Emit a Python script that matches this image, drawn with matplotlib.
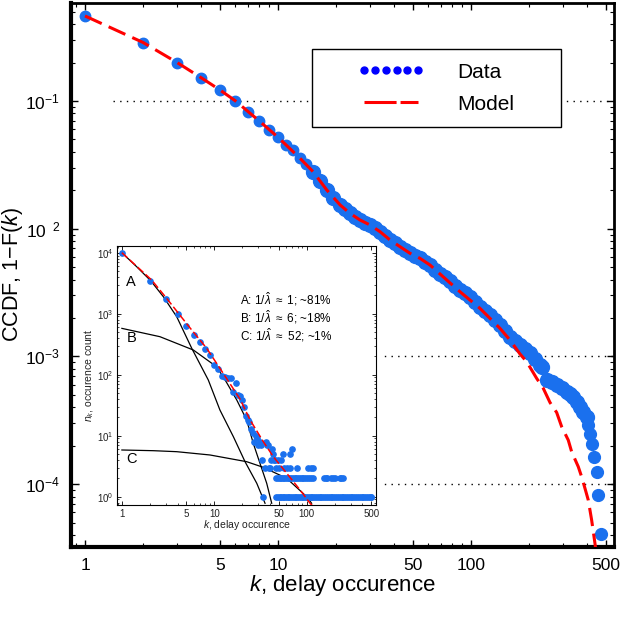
import matplotlib
matplotlib.use('Agg')
import matplotlib.pyplot as plt
from matplotlib.lines import Line2D
from matplotlib.patches import Rectangle
from matplotlib.ticker import FixedLocator, LogLocator, NullFormatter

plt.rcParams['font.family'] = ['Liberation Sans', 'DejaVu Sans']
plt.rcParams['mathtext.fontset'] = 'custom'
plt.rcParams['mathtext.rm'] = 'Liberation Sans'
plt.rcParams['mathtext.it'] = 'Liberation Sans:italic'

# ---- main panel: CCDF data ----
head_k = [1, 2, 3, 4, 5, 6, 7, 8, 9, 10, 11, 12, 13, 14]
head_ccdf = [0.464, 0.287, 0.200, 0.152, 0.122, 0.100, 0.0815, 0.0697, 0.0593,
             0.052, 0.0452, 0.0413, 0.0356, 0.0321]
band_k = [15.2, 16.5, 17.9, 19.3, 21.0, 22.2, 23.6, 25.1, 26.6, 28.2, 30.0,
          31.8, 33.8, 35.8, 38.1, 40.4, 42.9, 45.5, 48.3, 51.3, 54.4, 57.8,
          61.3, 65.1, 69.1, 73.3, 77.8, 82.6, 87.7, 93.1, 98.8, 104.9, 111.3,
          118.2, 125.4, 133.2, 141.3, 150, 159.2, 169, 179.5, 190.5, 202.2,
          214.6, 227.8, 232.4,
          246.7, 261.8, 278, 295, 313, 326, 339, 353, 367, 382, 398]
band_ccdf = [0.02795, 0.0237, 0.02009, 0.01755, 0.01533, 0.01421, 0.0132,
             0.01242, 0.0117, 0.01118, 0.01069, 0.01005, 0.00947, 0.00878,
             0.00815, 0.00767, 0.00723, 0.00681, 0.00642, 0.00613, 0.00586,
             0.00551, 0.0052, 0.00479, 0.00442, 0.00415, 0.0039, 0.00359,
             0.00331, 0.00311, 0.00293, 0.00268, 0.00245, 0.00227, 0.00211,
             0.00193, 0.00176, 0.001584, 0.001426, 0.001322, 0.001229,
             0.001138, 0.001058, 0.000951, 0.000856, 0.000821,
             0.000653, 0.000625, 0.000597, 0.000563, 0.000529, 0.000506,
             0.000484, 0.000442, 0.000404, 0.000369, 0.000337]
tail_k = [405, 414, 422, 435, 448, 457, 470]
tail_ccdf = [0.00029, 0.000247, 0.000206, 0.000164, 0.000124, 8.2e-5, 4.1e-5]

model_k = [1, 2, 3, 4, 5, 6, 8, 10, 13, 15.2, 17.9, 21.0, 23.6, 26.6, 30.0,
           33.8, 38.1, 42.9, 48.3, 54.4, 61.3, 69.1, 87.7, 111.3, 141.3, 159.2,
           179.5, 194.4, 218.9, 236.9, 256.7, 278, 295, 319.3, 332.5, 359.7,
           374.6, 389.7, 405.3, 422, 439, 449.7]
model_ccdf = [0.463, 0.287, 0.200, 0.152, 0.122, 0.1005, 0.0697, 0.052, 0.0356,
              0.02795, 0.02009, 0.01533, 0.0132, 0.0117, 0.01069, 0.00947,
              0.00815, 0.00723, 0.00642, 0.00586, 0.0052, 0.00442, 0.00321,
              0.00238, 0.00166, 0.001344, 0.001044, 0.000909, 0.000674,
              0.000563, 0.000436, 0.000364, 0.000282, 0.000221, 0.000179,
              0.000137, 0.000114, 9.27e-5, 7.51e-5, 5.23e-5, 3.44e-5, 2.55e-5]

x_ticks = [1, 5, 10, 50, 100, 500]
x_ticklabels = ['1', '5', '10', '50', '100', '500']
y_ticks = [1e-1, 1e-2, 1e-3, 1e-4]
y_ticklabels = [r'$\mathregular{10^{-1}}$', r'$\mathregular{10^{\ \ 2}}$',
                r'$\mathregular{10^{-3}}$', r'$\mathregular{10^{-4}}$']
grid_levels = [1e-1, 1e-3, 1e-4]

# ---- inset: occurrence counts ----
ins_k_head = list(range(1, 47))
ins_n_head = [10000, 3475, 1722, 977, 635, 448, 340, 264, 210, 144, 124, 96, 93,
              87, 88, 53, 72, 46, 44, 38, 30, 21, 18, 17, 13, 11, 8, 10, 9, 7,
              8, 7, 4, 1, 3, 8, 7, 7, 3, 3, 4, 6, 5, 4, 4, 3]
ins_k_ones = [47, 49, 51, 53, 55, 57, 60, 62, 65, 68, 71, 74, 77, 80, 84, 88,
              92, 96, 100, 105, 110, 115, 120, 126, 132, 138, 144, 151, 158,
              165, 173, 181, 189, 198, 207, 217, 227, 238, 249, 260, 272, 285,
              298, 312, 327, 342, 358, 375, 392, 410, 429, 449, 470, 492, 500]
ins_k_twos = [47, 49, 51, 53, 55, 57, 60, 62, 65, 68, 71, 74, 77, 80, 84, 88,
              92, 96, 100, 105, 110, 116, 155, 160, 166, 185, 192, 200, 228,
              236, 245]
ins_k_threes = [50, 57, 61, 66, 78, 104, 110, 116]
ins_k_misc = [49, 53, 55, 66, 70]
ins_n_misc = [4, 4, 5, 5, 6]

comp_a_k = [1, 1.446, 2.05, 2.81, 3.92, 5.7, 8.61, 11.5, 16.1, 21.5, 28.8, 35.4]
comp_a_n = [10000, 5890, 3475, 1900, 893, 271, 81.9, 26.4, 9.6, 3.75, 1.66, 0.78]
comp_b_k = [1, 2.58, 5.93, 10.6, 13.1, 17.5, 22.4, 26.4, 31.2, 36.9, 41.8]
comp_b_n = [575, 420, 254, 135, 81.9, 38.5, 18.1, 7.5, 3.53, 1.66, 0.78]
comp_c_k = [1, 2.19, 3.92, 8.98, 22.4, 33.9, 60.8, 100, 113]
comp_c_n = [5.83, 5.68, 5.47, 4.83, 3.75, 3.03, 2.0, 1.0, 0.78]
ins_model_k = [1, 2.1, 3.05, 5.15, 8.27, 12.5, 19.0, 24.4, 34, 43.5, 60.8, 84.7,
               108.7, 118]
ins_model_n = [10000, 3565, 1786, 653, 271, 105, 39.8, 18.1, 7.94, 4.53, 2.42,
               1.29, 0.78, 0.686]

ins_x_ticks = [1, 5, 10, 50, 100, 500]
ins_y_ticks = [1, 10, 100, 1000, 10000]
ins_y_ticklabels = [r'$\mathregular{10^{0}}$', r'$\mathregular{10^{1}}$',
                    r'$\mathregular{10^{2}}$', r'$\mathregular{10^{3}}$',
                    r'$\mathregular{10^{4}}$']

BLUE = '#1a70ee'
W, H = 622, 630

fig = plt.figure(figsize=(W / 100, H / 100), dpi=100)
ax = fig.add_axes([71 / W, 1 - 547 / H, 543 / W, 544 / H])
ax.set_xscale('log')
ax.set_yscale('log')

for lvl in grid_levels:
    xmin = 0.077 if lvl == 1e-1 else 0.0
    ax.axhline(lvl, xmin=xmin, color='k', lw=1, ls=(0, (1, 3.8)), zorder=1)

ax.plot(head_k, head_ccdf, 'o', color=BLUE, ms=7.5, zorder=3)
ax.plot(band_k, band_ccdf, 'o', color=BLUE, ms=10, zorder=3)
ax.plot(tail_k, tail_ccdf, 'o', color=BLUE, ms=8.5, zorder=3)
ax.plot(model_k, model_ccdf, color='#ff0000', lw=2.2, dashes=(6, 2.5), zorder=4)

ax.set_xlim(0.846, 551)
ax.set_ylim(3.22e-5, 0.585)

ax.xaxis.set_major_locator(FixedLocator(x_ticks))
ax.set_xticklabels(x_ticklabels)
ax.xaxis.set_minor_locator(LogLocator(base=10, subs=range(2, 10)))
ax.xaxis.set_minor_formatter(NullFormatter())
ax.yaxis.set_major_locator(FixedLocator(y_ticks))
ax.set_yticklabels(y_ticklabels)
ax.yaxis.set_minor_locator(LogLocator(base=10, subs=range(2, 10)))
ax.yaxis.set_minor_formatter(NullFormatter())
ax.tick_params(which='major', direction='in', length=5, width=1,
               top=True, right=True, labelsize=12.5, pad=8)
ax.tick_params(which='minor', direction='in', length=3, width=0.8,
               top=True, right=True)
for side in ['left', 'bottom']:
    ax.spines[side].set_linewidth(3)
for side in ['top', 'right']:
    ax.spines[side].set_linewidth(2)

ax.set_xlabel(r'$k$, delay occurence', fontsize=16)
ax.xaxis.set_label_coords(0.5, -0.07)
ax.xaxis.label.set_va('center')
ax.set_ylabel(r'CCDF, 1$-$F($k$)', fontsize=15.5)
ax.yaxis.set_label_coords(-0.108, 0.5)
ax.yaxis.label.set_va('center')

# legend with its own frame
ax.add_patch(Rectangle((0.4433, 0.772), 0.4591, 0.1428, transform=ax.transAxes,
                       facecolor='white', edgecolor='black', lw=1, zorder=5))
handles = [Line2D([], [], ls='none', marker='o', ms=5, color='#0000ff'),
           Line2D([], [], color='#ff0000', lw=2.2, dashes=(10.5, 1.3))]
leg = ax.legend(handles, ['Data', 'Model'], loc='center',
                bbox_to_anchor=(0.6728, 0.8434), frameon=False, fontsize=15,
                numpoints=6, handlelength=3.17, handletextpad=1.6,
                labelspacing=0.62)
leg.set_zorder(6)

# white backing of the inset
fig.add_artist(Rectangle((80 / W, 1 - 537 / H), 304 / W, 293 / H,
                         transform=fig.transFigure, facecolor='white',
                         edgecolor='none', zorder=2))

# ---- inset ----
ins = fig.add_axes([117.3 / W, 1 - 505 / H, 258.7 / W, 259.3 / H], zorder=3)
ins.set_xscale('log')
ins.set_yscale('log')
for ck, cn in [(comp_a_k, comp_a_n), (comp_b_k, comp_b_n), (comp_c_k, comp_c_n)]:
    ins.plot(ck, cn, color='black', lw=0.9, zorder=2)
ins.plot(ins_k_head, ins_n_head, 'o', color=BLUE, ms=3.8, zorder=3)
ins.plot(ins_k_ones, [1] * len(ins_k_ones), 'o', color=BLUE, ms=3.8, zorder=3)
ins.plot(ins_k_twos, [2] * len(ins_k_twos), 'o', color=BLUE, ms=3.8, zorder=3)
ins.plot(ins_k_threes, [3] * len(ins_k_threes), 'o', color=BLUE, ms=3.8, zorder=3)
ins.plot(ins_k_misc, ins_n_misc, 'o', color=BLUE, ms=3.8, zorder=3)
ins.plot(ins_model_k, ins_model_n, color='#ff0000', lw=1.1, dashes=(5, 2),
         zorder=4)
ins.set_xlim(0.892, 562)
ins.set_ylim(0.731, 13030)

ins.xaxis.set_major_locator(FixedLocator(ins_x_ticks))
ins.set_xticklabels([str(v) for v in ins_x_ticks])
ins.xaxis.set_minor_locator(LogLocator(base=10, subs=range(2, 10)))
ins.xaxis.set_minor_formatter(NullFormatter())
ins.yaxis.set_major_locator(FixedLocator(ins_y_ticks))
ins.set_yticklabels(ins_y_ticklabels)
ins.yaxis.set_minor_locator(LogLocator(base=10, subs=range(2, 10)))
ins.yaxis.set_minor_formatter(NullFormatter())
ins.tick_params(which='major', direction='in', length=3, width=0.6,
                top=True, right=True, labelsize=7, pad=3, labelcolor='#222222')
ins.tick_params(which='minor', direction='in', length=1.5, width=0.5,
                top=True, right=True)
for sp in ins.spines.values():
    sp.set_linewidth(0.8)

ins.set_xlabel(r'$k$, delay occurence', fontsize=7.5, color='#222222')
ins.xaxis.set_label_coords(0.5, -0.077)
ins.xaxis.label.set_va('center')
ins.set_ylabel(r'$n_k$, occurence count', fontsize=7.5, color='#222222')
ins.yaxis.set_label_coords(-0.109, 0.5)
ins.yaxis.label.set_va('center')

for letter, k_pos, n_pos in [('A', 1.12, 3350), ('B', 1.12, 395), ('C', 1.12, 4.1)]:
    ins.text(k_pos, n_pos, letter, fontsize=10.5, va='center', ha='left')

notes = [r'A: 1/$\hat{\lambda}$ $\approx$ 1; ~81%',
         r'B: 1/$\hat{\lambda}$ $\approx$ 6; ~18%',
         r'C: 1/$\hat{\lambda}$ $\approx$ 52; ~1%']
for i, line in enumerate(notes):
    ins.text(0.475, 0.795 - i * 0.0705, line, transform=ins.transAxes,
             fontsize=8.5, va='center', ha='left')

fig.savefig('out.png', dpi=100)
